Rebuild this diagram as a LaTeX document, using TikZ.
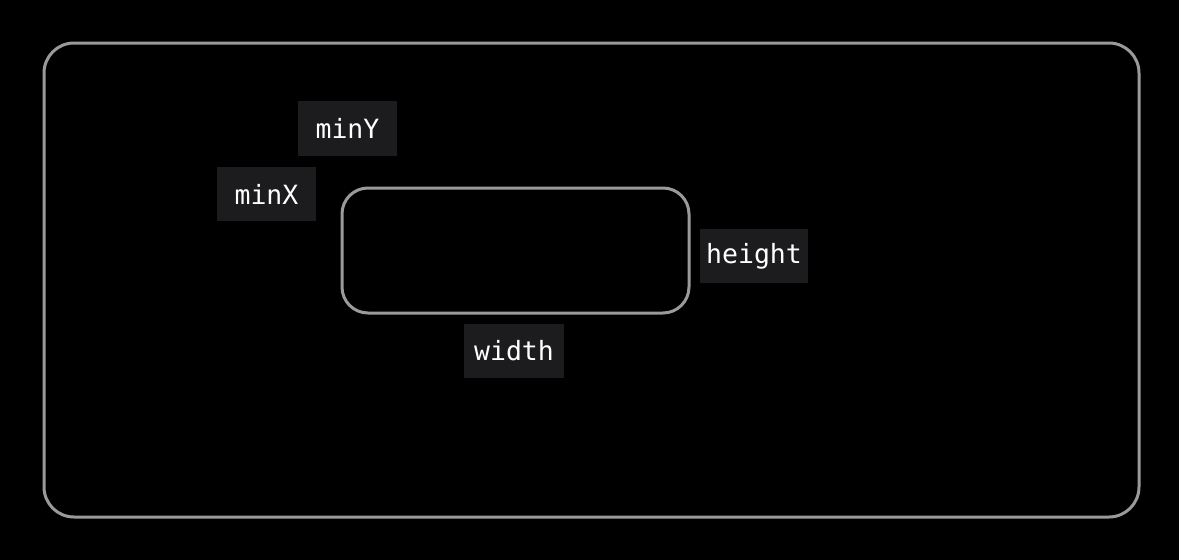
\documentclass[tikz,border=0pt]{standalone}
\usepackage{fontspec}
\setmonofont{DejaVu Sans Mono}
\begin{document}
\begin{tikzpicture}[x=1pt,y=-1pt,
  frame/.style={draw=frameGray,line width=3pt,rounded corners=#1},
  lbl/.style={fill=boxGray,text=white,font=\ttfamily\fontsize{26.5}{30}\selectfont,inner sep=0pt,anchor=center}]
\definecolor{frameGray}{HTML}{9A9A9A}
\definecolor{boxGray}{HTML}{1C1C1E}
\fill[black] (0,0) rectangle (1179,560);
\useasboundingbox (0,0) rectangle (1179,560);
\draw[frame=30pt] (44,43) rectangle (1139,517);
\draw[frame=26pt] (342,188) rectangle (689,313);
\node[lbl,minimum width=99pt,minimum height=55pt] (minY) at (347.5,128.5) {minY};
\node[lbl,minimum width=99pt,minimum height=54pt] (minX) at (266.5,194) {minX};
\node[lbl,minimum width=108pt,minimum height=54pt] (height) at (754,256) {height};
\node[lbl,minimum width=100pt,minimum height=54pt] (width) at (514,351) {width};
\end{tikzpicture}
\end{document}
